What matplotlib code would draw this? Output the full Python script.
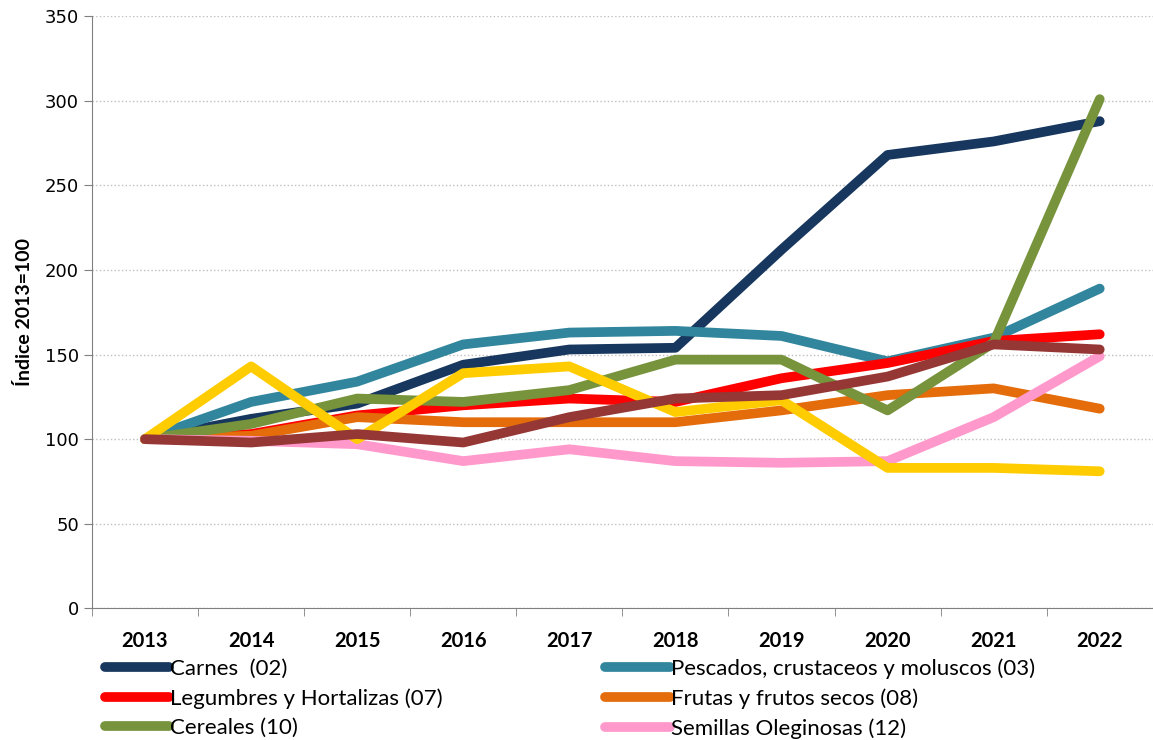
import matplotlib
matplotlib.use('Agg')
import matplotlib.pyplot as plt
import matplotlib.ticker as mticker
import numpy as np

years = ['2013', '2014', '2015', '2016', '2017', '2018', '2019', '2020', '2021', '2022']

carnes = [100, 112, 121, 144, 153, 154, 212, 268, 276, 288]
pescados = [100, 122, 134, 156, 163, 164, 161, 146, 160, 189]
legumbres = [100, 103, 114, 120, 124, 122, 136, 145, 158, 162]
frutas = [100, 102, 113, 110, 110, 110, 117, 126, 130, 118]
cereales = [100, 109, 124, 122, 129, 147, 147, 117, 157, 301]
semillas = [100, 99, 97, 87, 94, 87, 86, 87, 113, 149]
amarillo = [100, 143, 100, 139, 143, 116, 123, 83, 83, 81]
marron = [100, 98, 103, 98, 113, 124, 126, 137, 156, 153]

series = [
    ('Carnes  (02)', carnes, '#17375E'),
    ('Pescados, crustaceos y moluscos (03)', pescados, '#31859C'),
    ('Legumbres y Hortalizas (07)', legumbres, '#FF0000'),
    ('Frutas y frutos secos (08)', frutas, '#E46C0A'),
    ('Cereales (10)', cereales, '#77933C'),
    ('Semillas Oleginosas (12)', semillas, '#FF99CC'),
    (None, amarillo, '#FFCC00'),
    (None, marron, '#953735'),
]

NARROW = ['Lato', 'DejaVu Sans']

fig = plt.figure(figsize=(11.53, 7.40), dpi=100)
ax = fig.add_axes([0.0798, 0.178, 0.92, 0.8])

x = np.arange(len(years))
handles = {}
for name, vals, col in series:
    ln, = ax.plot(x, vals, color=col, linewidth=7, solid_capstyle='round',
                  solid_joinstyle='round', label=name)
    if name:
        handles[name] = ln

ax.set_xlim(-0.5, len(years) - 0.5)
ax.set_ylim(0, 350)
ax.yaxis.set_major_locator(mticker.MultipleLocator(50))
ax.grid(axis='y', color='#BFBFBF', linestyle=':', linewidth=1)
ax.set_axisbelow(True)

ax.set_xticks(x)
ax.set_xticklabels(years, fontsize=14.5, fontweight='bold', family=NARROW)
ax.set_xticks(np.arange(-0.5, len(years)), minor=True)
ax.tick_params(axis='x', which='major', length=0, pad=16)
ax.tick_params(axis='x', which='minor', length=6, color='#808080')
ax.tick_params(axis='y', length=6, color='#808080', labelsize=13)

for s in ['top', 'right']:
    ax.spines[s].set_visible(False)
for s in ['left', 'bottom']:
    ax.spines[s].set_color('#808080')

ax.set_ylabel('Índice 2013=100', fontsize=14, fontweight='bold', family=NARROW, labelpad=8)

col1 = ['Carnes  (02)', 'Legumbres y Hortalizas (07)', 'Cereales (10)']
col2 = ['Pescados, crustaceos y moluscos (03)', 'Frutas y frutos secos (08)', 'Semillas Oleginosas (12)']
for names, xpos in [(col1, 0.091), (col2, 0.525)]:
    fig.legend([handles[n] for n in names], names, loc='upper left',
               bbox_to_anchor=(xpos, 0.11), frameon=False, handlelength=2.9,
               handletextpad=0.05, labelspacing=0.42, borderaxespad=0,
               borderpad=0, prop={'family': NARROW, 'size': 16})

plt.savefig('out.png', dpi=100)
plt.close()
